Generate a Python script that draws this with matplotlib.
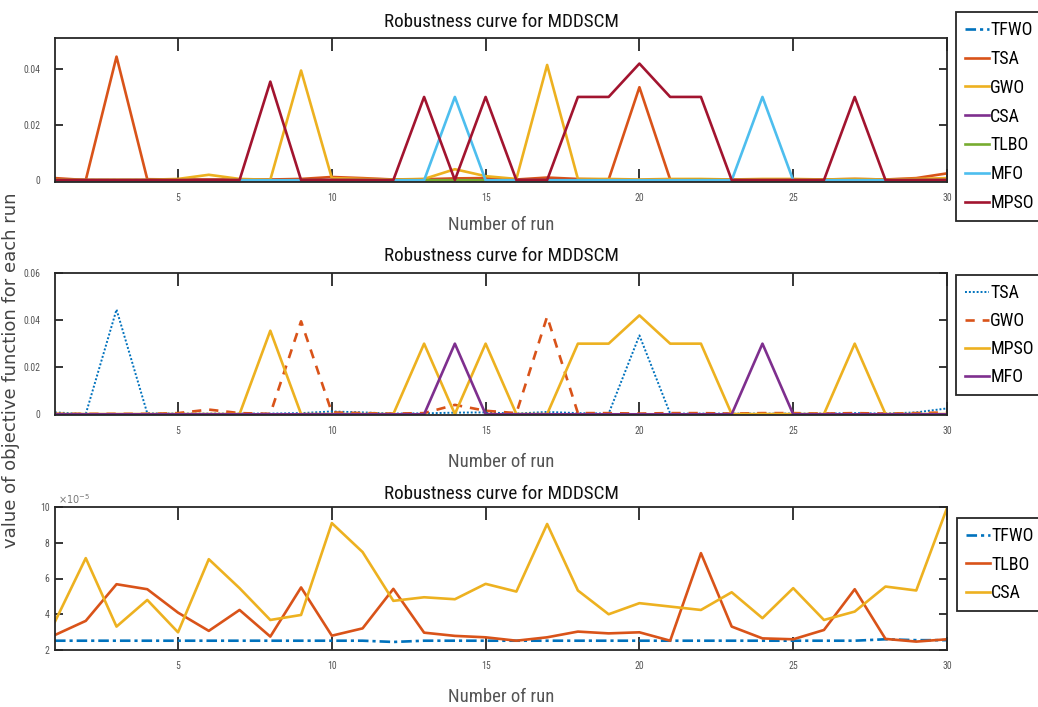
import os
import numpy as np
import matplotlib
matplotlib.use("Agg")
import matplotlib.pyplot as plt
from matplotlib import font_manager
from matplotlib.font_manager import FontProperties

# ---- data -------------------------------------------------------------
runs = np.arange(1, 31)

TSA = [0.0008, 0.0001, 0.0445, 0.0004, 0.0003, 0.0003, 0.0003, 0.0003, 0.0005, 0.0012,
       0.0008, 0.0003, 0.0004, 0.0007, 0.0008, 0.0003, 0.0010, 0.0005, 0.0003, 0.0335,
       0.0003, 0.0003, 0.0003, 0.0003, 0.0003, 0.0003, 0.0005, 0.0003, 0.0008, 0.0025]

GWO = [0.0002, 0.0002, 0.0002, 0.0002, 0.0005, 0.0020, 0.0005, 0.0002, 0.0395, 0.0008,
       0.0005, 0.0003, 0.0005, 0.0040, 0.0015, 0.0005, 0.0415, 0.0005, 0.0005, 0.0003,
       0.0005, 0.0005, 0.0003, 0.0005, 0.0005, 0.0003, 0.0005, 0.0003, 0.0005, 0.0008]

MPSO = [0.0001, 0.0001, 0.0001, 0.0001, 0.0001, 0.0001, 0.0001, 0.0355, 0.0001, 0.0001,
        0.0001, 0.0001, 0.0300, 0.0001, 0.0300, 0.0001, 0.0001, 0.0300, 0.0300, 0.0420,
        0.0300, 0.0300, 0.0001, 0.0001, 0.0001, 0.0001, 0.0300, 0.0001, 0.0001, 0.0001]

MFO = [0.0, 0.0, 0.0, 0.0, 0.0, 0.0, 0.0, 0.0, 0.0, 0.0,
       0.0, 0.0, 0.0, 0.0300, 0.0, 0.0, 0.0, 0.0, 0.0, 0.0,
       0.0, 0.0, 0.0, 0.0300, 0.0, 0.0, 0.0, 0.0, 0.0, 0.0]

# small-valued algorithms (units of 1e-5)
TFWO = np.array([2.52, 2.52, 2.52, 2.52, 2.52, 2.52, 2.52, 2.52, 2.52, 2.52,
                 2.52, 2.45, 2.52, 2.52, 2.52, 2.52, 2.52, 2.52, 2.52, 2.52,
                 2.52, 2.52, 2.52, 2.52, 2.52, 2.52, 2.52, 2.60, 2.55, 2.55]) * 1e-5

TLBO = np.array([2.84, 3.63, 5.68, 5.40, 4.09, 3.07, 4.24, 2.75, 5.50, 2.80,
                 3.21, 5.42, 2.97, 2.79, 2.71, 2.52, 2.71, 3.03, 2.93, 2.99,
                 2.52, 7.42, 3.31, 2.65, 2.60, 3.12, 5.40, 2.62, 2.47, 2.60]) * 1e-5

CSA = np.array([3.59, 7.14, 3.31, 4.80, 2.99, 7.08, 5.46, 3.68, 3.96, 9.10,
                7.48, 4.75, 4.95, 4.84, 5.70, 5.27, 9.05, 5.33, 4.00, 4.62,
                4.43, 4.24, 5.23, 3.78, 5.46, 3.68, 4.15, 5.55, 5.33, 9.94]) * 1e-5

x_ticks = [5, 10, 15, 20, 25, 30]
title_text = "Robustness curve for MDDSCM"
xlabel_text = "Number of run"
ylabel_text = "value of objective function for each run"

# ---- styling ----------------------------------------------------------
C_BLUE = "#0072BD"
C_ORANGE = "#D95319"
C_YELLOW = "#EDB120"
C_PURPLE = "#7E2F8E"
C_GREEN = "#77AC30"
C_LBLUE = "#4DBEEE"
C_DRED = "#A2142F"


def narrow_font_path():
    """Pick a regular-weight narrow/condensed sans face if one is installed."""
    entries = font_manager.fontManager.ttflist
    ranked = []
    for f in entries:
        base = os.path.basename(f.fname).lower()
        label = (f.name + " " + base).lower()
        if f.style != "normal":
            continue
        if any(k in base for k in ("bold", "italic", "light", "thin", "black",
                                   "medium", "semibold", "extrabold", "oblique")):
            continue
        squashed = label.replace(" ", "")
        if "extracondensed" in squashed or "semicondensed" in squashed:
            continue
        score = None
        if "liberation" in label and "narrow" in label:
            score = 0
        elif "arial" in label and "narrow" in label:
            score = 1
        elif "roboto" in label and "condensed" in label:
            score = 2
        elif "noto" in label and "sans" in label and "condensed" in label and "mono" not in label:
            score = 3
        elif "dejavu" in label and "condensed" in label and "mono" not in label and "serif" not in label:
            score = 4
        elif "open" in label and "condensed" in label:
            score = 5
        elif "narrow" in label or "condensed" in label:
            score = 6
        if score is not None:
            ranked.append((score, f.fname))
    if ranked:
        ranked.sort()
        return ranked[0][1]
    return None


_narrow = narrow_font_path()


def nfont(size):
    if _narrow:
        return FontProperties(fname=_narrow, size=size)
    return FontProperties(family="Liberation Sans", size=size * 0.9)


DASHDOT = (0, (4, 1.5, 1.2, 1.5))
LW = 1.9

fig = plt.figure(figsize=(10.38, 7.07), dpi=100)

W, H = 1038, 707


def axes_box(top_px, bot_px, left_px=55, right_px=947):
    return [left_px / W, 1 - bot_px / H, (right_px - left_px) / W, (bot_px - top_px) / H]


# (axes top, axes bottom, title baseline, xlabel baseline) in pixels
PANELS = [(38, 182, 27, 230), (273, 415, 261, 467), (507, 650, 499, 702)]

axes = [fig.add_axes(axes_box(t, b)) for t, b, _, _ in PANELS]
ax1, ax2, ax3 = axes


def style_axes(ax, panel, ylim, yticks, ylabels, ypad):
    top_px, bot_px, title_px, xlab_px = panel
    h_px = bot_px - top_px
    ax.set_xlim(1, 30)
    ax.set_ylim(*ylim)
    ax.set_xticks(x_ticks)
    ax.set_xticklabels([str(t) for t in x_ticks])
    ax.set_yticks(yticks)
    ax.set_yticklabels(ylabels)
    ax.tick_params(axis="x", direction="in", length=9.5, width=1.3, top=True,
                   color="#262626", pad=8, labelcolor="#555555")
    ax.tick_params(axis="y", direction="in", length=6, width=1.3, right=True,
                   color="#262626", pad=ypad, labelcolor="#555555")
    for lab in ax.get_xticklabels() + ax.get_yticklabels():
        lab.set_fontproperties(nfont(7))
    for sp in ax.spines.values():
        sp.set_color("#262626")
        sp.set_linewidth(1.3)
    ax.set_title(title_text, fontproperties=nfont(13.8), color="#111111",
                 y=1 + (top_px - title_px) / h_px, pad=0)
    ax.set_xlabel(xlabel_text, fontproperties=nfont(13.5), color="#555555")
    ax.xaxis.set_label_coords(0.5, (bot_px - xlab_px) / h_px)
    ax.xaxis.label.set_verticalalignment("baseline")


# ---- top panel: all algorithms -----------------------------------------
ax1.plot(runs, TFWO, color=C_BLUE, lw=LW, linestyle=DASHDOT, label="TFWO")
ax1.plot(runs, TSA, color=C_ORANGE, lw=LW, label="TSA")
ax1.plot(runs, GWO, color=C_YELLOW, lw=LW, label="GWO")
ax1.plot(runs, CSA, color=C_PURPLE, lw=LW, label="CSA")
ax1.plot(runs, TLBO, color=C_GREEN, lw=LW, label="TLBO")
ax1.plot(runs, MFO, color=C_LBLUE, lw=LW, label="MFO")
ax1.plot(runs, MPSO, color=C_DRED, lw=LW, label="MPSO")
style_axes(ax1, PANELS[0], (-0.0006, 0.0512), [0, 0.02, 0.04], ["0", "0.02", "0.04"], 10.5)

# ---- middle panel: algorithms with large deviations --------------------
ax2.plot(runs, TSA, color=C_BLUE, lw=1.4, linestyle=(0, (1, 1)), label="TSA")
ax2.plot(runs, GWO, color=C_ORANGE, lw=LW, linestyle=(0, (3.5, 3)), label="GWO")
ax2.plot(runs, MPSO, color=C_YELLOW, lw=LW, label="MPSO")
ax2.plot(runs, MFO, color=C_PURPLE, lw=LW, label="MFO")
style_axes(ax2, PANELS[1], (-0.0003, 0.06), [0, 0.02, 0.04, 0.06],
           ["0", "0.02", "0.04", "0.06"], 10.5)

# ---- bottom panel: algorithms with small deviations --------------------
ax3.plot(runs, TFWO, color=C_BLUE, lw=LW, linestyle=DASHDOT, label="TFWO")
ax3.plot(runs, TLBO, color=C_ORANGE, lw=LW, label="TLBO")
ax3.plot(runs, CSA, color=C_YELLOW, lw=LW, label="CSA")
b_ticks = [2e-5, 4e-5, 6e-5, 8e-5, 10e-5]
style_axes(ax3, PANELS[2], (2e-5, 10e-5), b_ticks, [f"{t / 1e-5:g}" for t in b_ticks], 4)
ax3.text(0.003, 1.008, r"$\times10^{-5}$", transform=ax3.transAxes, fontsize=7,
         color="#777777", ha="left", va="bottom")


# ---- legends -------------------------------------------------------------
def add_legend(ax, left_px, top_px, spacing):
    leg = ax.legend(loc="upper left", bbox_to_anchor=(left_px / W, 1 - top_px / H),
                    bbox_transform=fig.transFigure, frameon=True, fancybox=False,
                    edgecolor="#262626", framealpha=1, handlelength=1.35,
                    handletextpad=0.05, labelspacing=spacing, borderpad=0.5,
                    borderaxespad=0, prop=nfont(13))
    leg.get_frame().set_linewidth(1.3)
    return leg


add_legend(ax1, 956, 12, 0.6)
add_legend(ax2, 956, 275, 0.56)
add_legend(ax3, 957, 518, 0.58)

fig.text(11 / W, 1 - 370 / H, ylabel_text, rotation=90, ha="center", va="center",
         fontsize=13, color="#444444", family="DejaVu Sans")

fig.savefig("out.png", dpi=100)
